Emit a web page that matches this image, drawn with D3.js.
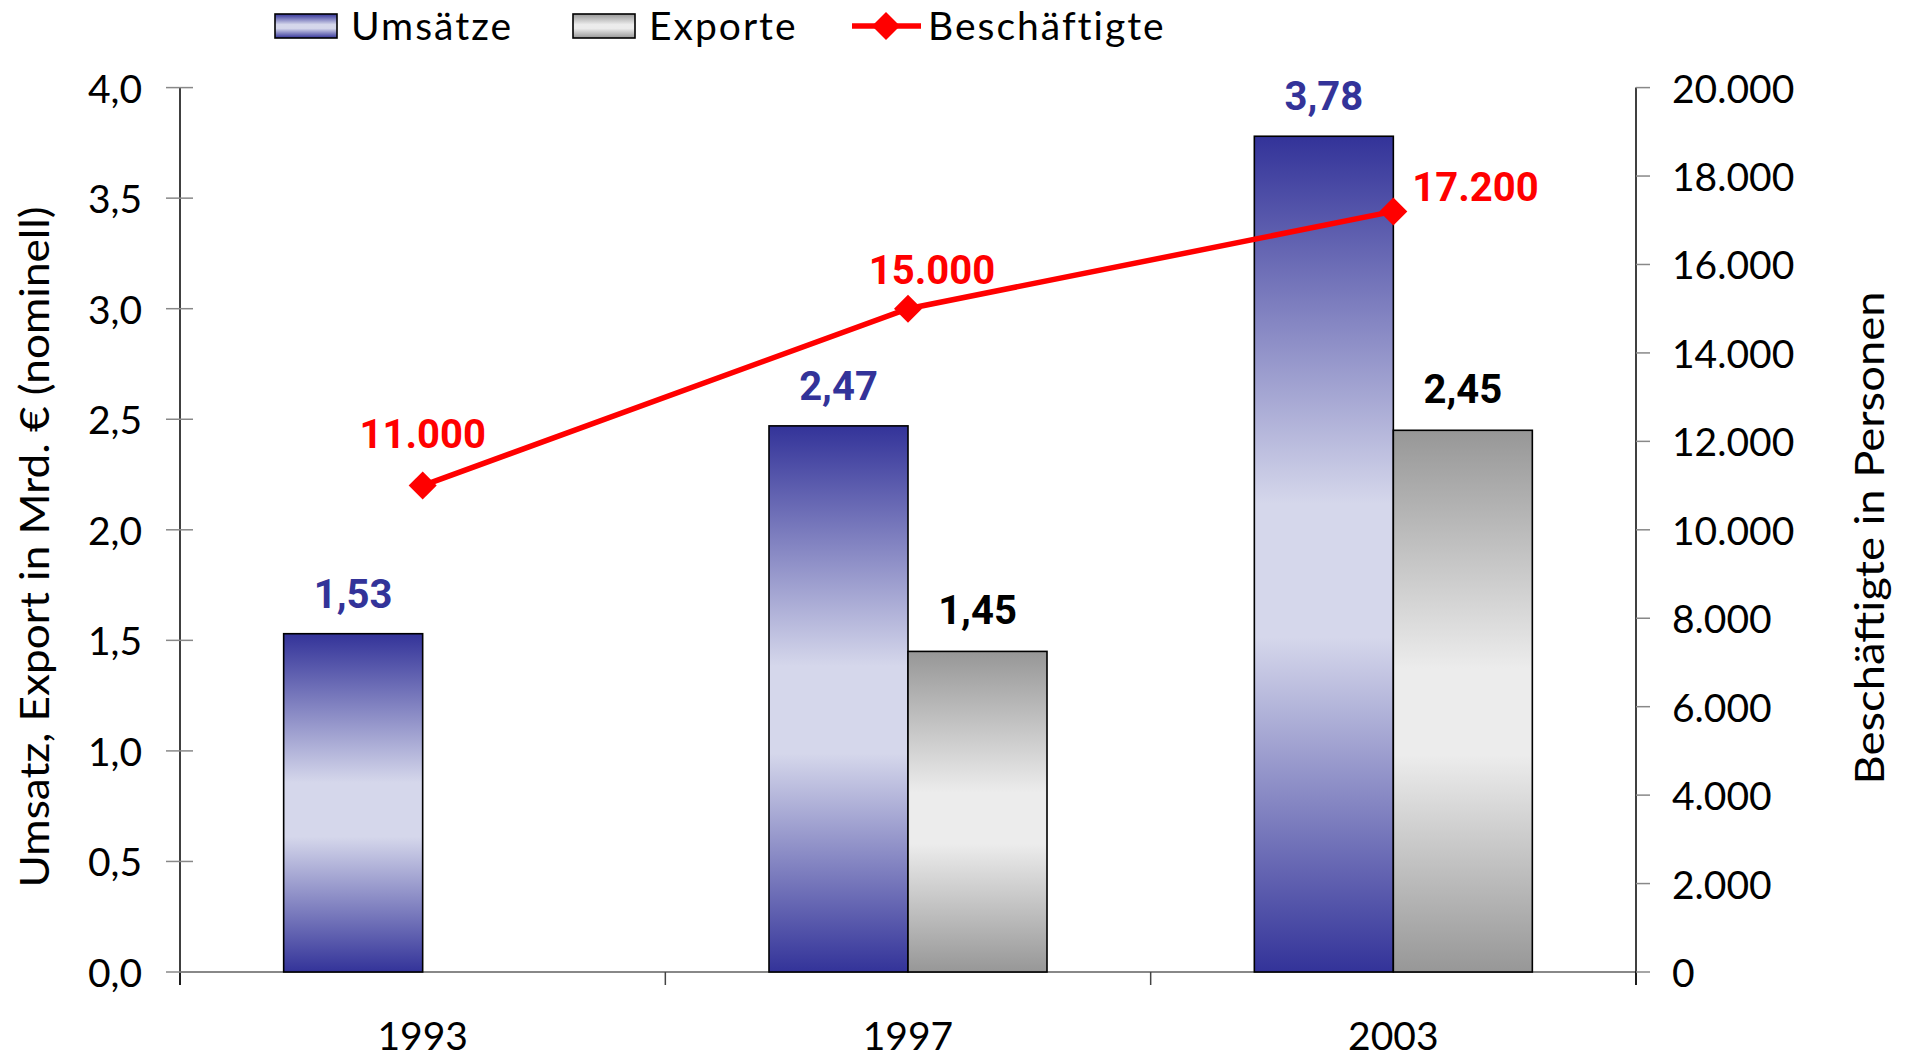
<!DOCTYPE html>
<html>
<head>
<meta charset="utf-8">
<script src="https://cdn.jsdelivr.net/npm/d3@7"></script>
<style>
  html, body { margin: 0; padding: 0; background: #fff; }
  svg { display: block; }
  .tick-label { font-family: Lato, "DejaVu Sans", sans-serif; font-size: 39px; fill: #000; }
  .value-label { font-family: Roboto, "DejaVu Sans", sans-serif; font-weight: 700; font-size: 40px; }
</style>
</head>
<body>
<div id="chart"></div>
<script>
// Werte
let years = ['1993', '1997', '2003'];
let umsaetze = [1.53, 2.47, 3.78];          // Mrd. €
let exporte = [null, 1.45, 2.45];            // Mrd. €, 1993 ohne Wert
let beschaeftigte = [11000, 15000, 17200];  // Personen
let leftTicks = [0, 0.5, 1, 1.5, 2, 2.5, 3, 3.5, 4];
let rightTicks = [0, 2000, 4000, 6000, 8000, 10000, 12000, 14000, 16000, 18000, 20000];
let seriesNames = ['Umsätze', 'Exporte', 'Beschäftigte'];

let width = 1908, height = 1058;
let margin = {left: 180, right: 272, top: 87.6, bottom: 86};
let plotRight = width - margin.right;
let plotBottom = height - margin.bottom;

let de = d3.formatLocale({decimal: ',', thousands: '.', grouping: [3], currency: ['', ' €']});
let fmt1 = de.format('.1f');
let fmt2 = de.format('.2f');
let fmtInt = de.format(',d');

let $svg = d3.select('#chart').append('svg')
    .attr('width', width)
    .attr('height', height);

let defs = $svg.append('defs');
let addGradient = (id, edge, mid) => {
    let g = defs.append('linearGradient')
        .attr('id', id)
        .attr('x1', 0).attr('y1', 0)
        .attr('x2', 0).attr('y2', 1);
    [[0, edge], [0.44, mid], [0.6, mid], [1, edge]].forEach(([o, c]) => {
        g.append('stop').attr('offset', o).attr('stop-color', c);
    });
};
addGradient('gradUms', '#333399', '#d5d7eb');
addGradient('gradExp', '#979797', '#ececec');

let x = d3.scaleBand().domain(years).range([margin.left, plotRight]);
let barW = 139;
let xs = d3.scaleBand().domain(['ums', 'exp']).range([-barW, barW]);
let yL = d3.scaleLinear().domain([0, 4]).range([plotBottom, margin.top]);
let yR = d3.scaleLinear().domain([0, 20000]).range([plotBottom, margin.top]);

// Achsen
let gx = $svg.append('g').attr('transform', `translate(0,${plotBottom})`);
gx.append('line')
    .attr('x1', margin.left).attr('x2', plotRight)
    .attr('stroke', '#888').attr('stroke-width', 2);
let bounds = [margin.left].concat(years.map(d => x(d) + x.bandwidth()));
gx.selectAll('.ct').data(bounds).join('line')
    .attr('x1', d => d).attr('x2', d => d)
    .attr('y1', 0).attr('y2', 13)
    .attr('stroke', '#444').attr('stroke-width', 1.5);
gx.selectAll('.cl').data(years).join('text')
    .attr('class', 'tick-label')
    .attr('x', d => x(d) + x.bandwidth() / 2)
    .attr('y', 78)
    .attr('text-anchor', 'middle')
    .text(d => d);

let gyl = $svg.append('g');
gyl.append('line')
    .attr('x1', margin.left).attr('x2', margin.left)
    .attr('y1', margin.top).attr('y2', plotBottom + 13)
    .attr('stroke', '#000').attr('stroke-width', 1.5);
gyl.selectAll('.tk').data(leftTicks).join('line')
    .attr('x1', margin.left - 14).attr('x2', margin.left + 13)
    .attr('y1', d => yL(d)).attr('y2', d => yL(d))
    .attr('stroke', '#888').attr('stroke-width', 1.5);
gyl.selectAll('.tl').data(leftTicks).join('text')
    .attr('class', 'tick-label')
    .attr('x', 142)
    .attr('y', d => yL(d) + 15)
    .attr('text-anchor', 'end')
    .text(d => fmt1(d));

let gyr = $svg.append('g');
gyr.append('line')
    .attr('x1', plotRight).attr('x2', plotRight)
    .attr('y1', margin.top).attr('y2', plotBottom + 13)
    .attr('stroke', '#000').attr('stroke-width', 1.5);
gyr.selectAll('.tk').data(rightTicks).join('line')
    .attr('x1', plotRight).attr('x2', plotRight + 14)
    .attr('y1', d => yR(d)).attr('y2', d => yR(d))
    .attr('stroke', '#888').attr('stroke-width', 1.5);
gyr.selectAll('.tl').data(rightTicks).join('text')
    .attr('class', 'tick-label')
    .attr('x', plotRight + 36)
    .attr('y', d => yR(d) + 15)
    .text(d => fmtInt(d));

// Achsentitel
$svg.append('text')
    .attr('class', 'tick-label')
    .attr('transform', 'translate(49,547) rotate(-90)')
    .attr('text-anchor', 'middle')
    .attr('textLength', 681)
    .attr('lengthAdjust', 'spacingAndGlyphs')
    .style('font-size', '40px')
    .text('Umsatz, Export in Mrd. € (nominell)');
$svg.append('text')
    .attr('class', 'tick-label')
    .attr('transform', 'translate(1884,538) rotate(-90)')
    .attr('text-anchor', 'middle')
    .attr('textLength', 493)
    .attr('lengthAdjust', 'spacingAndGlyphs')
    .style('font-size', '40px')
    .text('Beschäftigte in Personen');

// Balken
let bars = $svg.append('g');
let umsData = years.map((d, i) => ({year: d, v: umsaetze[i]}));
let expData = years.map((d, i) => ({year: d, v: exporte[i]})).filter(d => d.v != null);
let cx = d => x(d) + x.bandwidth() / 2;

bars.selectAll('.ums').data(umsData).join('rect')
    .attr('x', d => cx(d.year) + xs('ums'))
    .attr('y', d => yL(d.v))
    .attr('width', xs.bandwidth())
    .attr('height', d => plotBottom - yL(d.v))
    .attr('fill', 'url(#gradUms)')
    .attr('stroke', '#000').attr('stroke-width', 1.6);
bars.selectAll('.exp').data(expData).join('rect')
    .attr('x', d => cx(d.year) + xs('exp'))
    .attr('y', d => yL(d.v))
    .attr('width', xs.bandwidth())
    .attr('height', d => plotBottom - yL(d.v))
    .attr('fill', 'url(#gradExp)')
    .attr('stroke', '#000').attr('stroke-width', 1.6);

bars.selectAll('.uml').data(umsData).join('text')
    .attr('class', 'value-label')
    .attr('x', d => cx(d.year) + xs('ums') + xs.bandwidth() / 2)
    .attr('y', d => yL(d.v) - 26)
    .attr('text-anchor', 'middle')
    .attr('fill', '#333399')
    .text(d => fmt2(d.v));
bars.selectAll('.exl').data(expData).join('text')
    .attr('class', 'value-label')
    .attr('x', d => cx(d.year) + xs('exp') + xs.bandwidth() / 2)
    .attr('y', d => yL(d.v) - 27)
    .attr('text-anchor', 'middle')
    .attr('fill', '#000')
    .text(d => fmt2(d.v));

// Linie Beschäftigte
let lineData = years.map((d, i) => ({year: d, v: beschaeftigte[i]}));
let diamond = d3.symbol().type(d3.symbolDiamond2).size(500);
$svg.append('path')
    .datum(lineData)
    .attr('d', d3.line().x(d => cx(d.year)).y(d => yR(d.v)))
    .attr('fill', 'none')
    .attr('stroke', '#ff0000')
    .attr('stroke-width', 5.5);
$svg.selectAll('.mk').data(lineData).join('path')
    .attr('transform', d => `translate(${cx(d.year)},${yR(d.v)})`)
    .attr('d', diamond)
    .attr('fill', '#ff0000');
let lineLabelPos = [{dx: 0, dy: -38, anchor: 'middle'}, {dx: 24, dy: -25, anchor: 'middle'}, {dx: 19, dy: -10, anchor: 'start'}];
$svg.selectAll('.ll').data(lineData).join('text')
    .attr('class', 'value-label')
    .attr('x', (d, i) => cx(d.year) + lineLabelPos[i].dx)
    .attr('y', (d, i) => yR(d.v) + lineLabelPos[i].dy)
    .attr('text-anchor', (d, i) => lineLabelPos[i].anchor)
    .attr('fill', '#ff0000')
    .text(d => fmtInt(d.v));

// Legende
let legend = $svg.append('g');
let legendX = [275, 573, 852];
let legendTextX = [351, 649, 928];
legend.append('rect')
    .attr('x', legendX[0]).attr('y', 14).attr('width', 62).attr('height', 24)
    .attr('fill', 'url(#gradUms)').attr('stroke', '#000').attr('stroke-width', 1.6);
legend.append('rect')
    .attr('x', legendX[1]).attr('y', 14).attr('width', 62).attr('height', 24)
    .attr('fill', 'url(#gradExp)').attr('stroke', '#000').attr('stroke-width', 1.6);
legend.append('line')
    .attr('x1', legendX[2]).attr('x2', legendX[2] + 69)
    .attr('y1', 26).attr('y2', 26)
    .attr('stroke', '#ff0000').attr('stroke-width', 5.5);
legend.append('path')
    .attr('transform', `translate(${legendX[2] + 34},26)`)
    .attr('d', diamond)
    .attr('fill', '#ff0000');
legend.selectAll('.lt').data(seriesNames).join('text')
    .attr('class', 'tick-label')
    .attr('x', (d, i) => legendTextX[i])
    .attr('y', 40)
    .style('letter-spacing', '2px')
    .text(d => d);
</script>
</body>
</html>
